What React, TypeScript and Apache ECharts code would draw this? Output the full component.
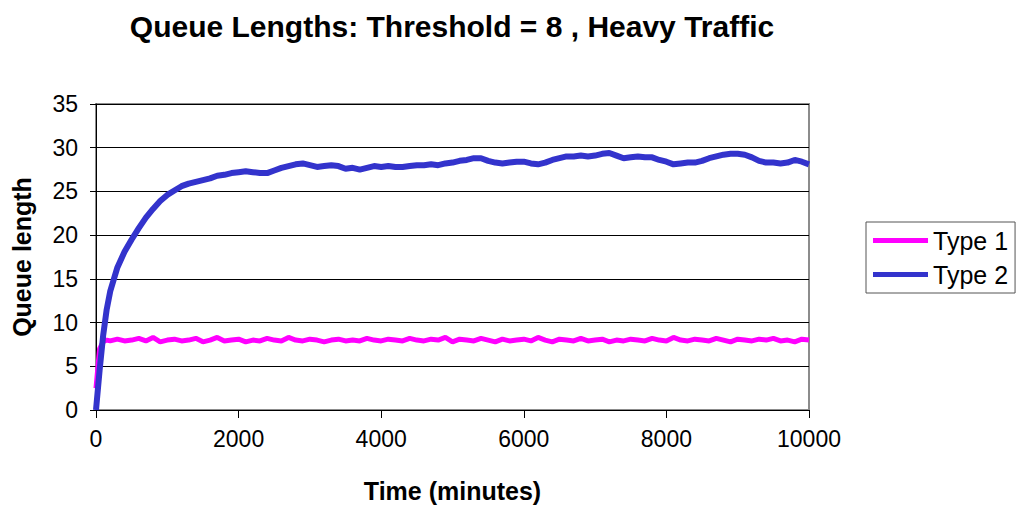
import React, { useEffect, useRef } from "react";
import * as echarts from "echarts";

const title = "Queue Lengths: Threshold = 8 , Heavy Traffic";
const xName = "Time (minutes)";
const yName = "Queue length";
const seriesNames = ["Type 1", "Type 2"];

const times = [
  0, 50, 100, 150, 200, 300, 400, 500, 600, 700, 800, 900, 1000, 1100, 1200, 1300, 1400,
  1500, 1600, 1700, 1800, 1900, 2000, 2100, 2200, 2300, 2400, 2500, 2600, 2700, 2800, 2900,
  3000, 3100, 3200, 3300, 3400, 3500, 3600, 3700, 3800, 3900, 4000, 4100, 4200, 4300, 4400,
  4500, 4600, 4700, 4800, 4900, 5000, 5100, 5200, 5300, 5400, 5500, 5600, 5700, 5800, 5900,
  6000, 6100, 6200, 6300, 6400, 6500, 6600, 6700, 6800, 6900, 7000, 7100, 7200, 7300, 7400,
  7500, 7600, 7700, 7800, 7900, 8000, 8100, 8200, 8300, 8400, 8500, 8600, 8700, 8800, 8900,
  9000, 9100, 9200, 9300, 9400, 9500, 9600, 9700, 9800, 9900, 10000,
];

const type1 = [
  2.5, 7.0, 7.8, 8.0, 7.9, 8.1, 7.9, 8.0, 8.2, 7.9, 8.3, 7.8, 8.0, 8.1, 7.9, 8.0, 8.2,
  7.8, 8.0, 8.3, 7.9, 8.0, 8.1, 7.8, 8.0, 7.9, 8.2, 8.0, 7.9, 8.3, 8.0, 7.9,
  8.1, 8.0, 7.8, 8.0, 8.1, 7.9, 8.0, 7.9, 8.2, 8.0, 7.9, 8.1, 8.0, 7.9, 8.2,
  8.0, 7.9, 8.1, 8.0, 8.3, 7.8, 8.1, 8.0, 7.9, 8.2, 8.0, 7.8, 8.1, 7.9, 8.0,
  8.1, 7.9, 8.3, 8.0, 7.8, 8.1, 8.0, 7.9, 8.2, 7.9, 8.0, 8.1, 7.8, 8.0, 7.9,
  8.1, 8.0, 7.9, 8.2, 8.0, 7.9, 8.3, 8.0, 7.9, 8.1, 8.0, 7.9, 8.2, 8.0, 7.8,
  8.1, 8.0, 7.9, 8.1, 8.0, 8.2, 7.9, 8.0, 7.8, 8.1, 8.0,
];

const type2 = [
  0, 4.5, 8.5, 11.5, 13.6, 16.3, 18.1, 19.5, 20.8, 22.0, 23.0, 23.9, 24.6, 25.1, 25.6, 25.9, 26.1,
  26.3, 26.5, 26.8, 26.9, 27.1, 27.2, 27.3, 27.2, 27.1, 27.1, 27.4, 27.7, 27.9, 28.1, 28.2,
  28.0, 27.8, 27.9, 28.0, 27.9, 27.6, 27.7, 27.5, 27.7, 27.9, 27.8, 27.9, 27.8, 27.8, 27.9,
  28.0, 28.0, 28.1, 28.0, 28.2, 28.3, 28.5, 28.6, 28.8, 28.8, 28.5, 28.3, 28.2, 28.3, 28.4,
  28.4, 28.2, 28.1, 28.3, 28.6, 28.8, 29.0, 29.0, 29.1, 29.0, 29.1, 29.3, 29.4, 29.1, 28.8,
  28.9, 29.0, 28.9, 28.9, 28.6, 28.4, 28.1, 28.2, 28.3, 28.3, 28.5, 28.8, 29.0, 29.2, 29.3,
  29.3, 29.2, 28.9, 28.5, 28.3, 28.3, 28.2, 28.3, 28.6, 28.4, 28.1,
];

const colors = ["#FF00FF", "#3333CC"];
const FONT = "Liberation Sans, Arial, sans-serif";

export default function App() {
  const ref = useRef<HTMLDivElement>(null);
  useEffect(() => {
    if (!ref.current) return;
    const chart = echarts.init(ref.current, undefined, { renderer: "svg" });
    const pair = (vals: number[]) => times.map((t, i) => [t, vals[i]]);
    chart.setOption({
      animation: false,
      backgroundColor: "#fff",
      title: {
        text: title,
        left: 447,
        top: 6,
        textAlign: "center",
        textStyle: { fontFamily: FONT, fontWeight: "bold", fontSize: 30, color: "#000" },
      },
      grid: {
        left: 96,
        right: 209,
        top: 104,
        bottom: 96,
        show: true,
        borderColor: "#8c8c8c",
        borderWidth: 2,
      },
      legend: {
        orient: "vertical",
        left: 866,
        top: 222,
        padding: [6, 7, 6, 7],
        itemGap: 9,
        itemWidth: 55,
        itemHeight: 5,
        icon: "rect",
        borderColor: "#555",
        borderWidth: 1,
        textStyle: { fontFamily: FONT, fontSize: 25, color: "#000", padding: [0, 0, 0, 0] },
        data: seriesNames,
      },
      xAxis: {
        type: "value",
        min: 0,
        max: 10000,
        interval: 2000,
        name: xName,
        nameLocation: "middle",
        nameGap: 68,
        nameTextStyle: { fontFamily: FONT, fontWeight: "bold", fontSize: 25, color: "#000" },
        axisLine: { show: true, lineStyle: { color: "#000", width: 1 } },
        axisTick: { show: true, inside: false, length: 8, lineStyle: { color: "#000" } },
        axisLabel: {
          fontFamily: FONT,
          fontSize: 23,
          color: "#000",
          margin: 17,
          formatter: (v: number) => String(v),
        },
        splitLine: { show: false },
      },
      yAxis: {
        type: "value",
        min: 0,
        max: 35,
        interval: 5,
        name: yName,
        nameLocation: "middle",
        nameGap: 62,
        nameTextStyle: { fontFamily: FONT, fontWeight: "bold", fontSize: 25, color: "#000" },
        axisLine: { show: true, lineStyle: { color: "#000", width: 1 } },
        axisTick: { show: true, inside: false, length: 6, lineStyle: { color: "#000" } },
        axisLabel: {
          fontFamily: FONT,
          fontSize: 23,
          color: "#000",
          margin: 18,
          formatter: (v: number) => String(v),
        },
        splitLine: { show: true, lineStyle: { color: "#000", width: 1 } },
      },
      series: [
        {
          name: seriesNames[0],
          type: "line",
          data: pair(type1),
          showSymbol: false,
          symbol: "none",
          lineStyle: { color: colors[0], width: 5 },
          itemStyle: { color: colors[0] },
          z: 2,
        },
        {
          name: seriesNames[1],
          type: "line",
          data: pair(type2),
          showSymbol: false,
          symbol: "none",
          lineStyle: { color: colors[1], width: 6 },
          itemStyle: { color: colors[1] },
          z: 3,
        },
      ],
    });
    return () => chart.dispose();
  }, []);
  return <div ref={ref} style={{ width: 1018, height: 508, position: "absolute", left: 0, top: 0 }} />;
}
